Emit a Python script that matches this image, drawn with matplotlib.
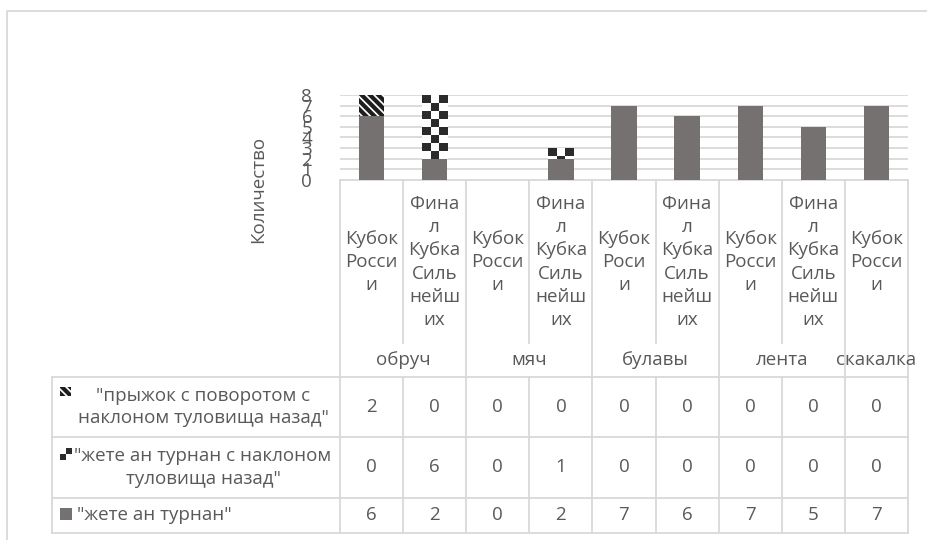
import numpy as np
import matplotlib
matplotlib.use("Agg")
from matplotlib import pyplot as plt
from matplotlib.colors import ListedColormap
from matplotlib.patches import Rectangle

plt.rcParams['font.family'] = ['Open Sans', 'DejaVu Sans']
plt.rcParams['hatch.linewidth'] = 3.0

# categories (group, event) as shown in the data table
groups = ["обруч", "мяч", "булавы", "лента", "скакалка"]
groupSizes = [2, 2, 2, 2, 1]
catLabels = ["Кубок\nРосси\nи", "Фина\nл\nКубка\nСиль\nнейш\nих",
             "Кубок\nРосси\nи", "Фина\nл\nКубка\nСиль\nнейш\nих",
             "Кубок\nРоси\nи", "Фина\nл\nКубка\nСиль\nнейш\nих",
             "Кубок\nРосси\nи", "Фина\nл\nКубка\nСиль\nнейш\nих",
             "Кубок\nРосси\nи"]

# series, top to bottom in the table
seriesNames = ["\"прыжок с поворотом с\nнаклоном туловища назад\"",
               "\"жете ан турнан с наклоном\nтуловища назад\"",
               "\"жете ан турнан\""]
jumpTurn = [2, 0, 0, 0, 0, 0, 0, 0, 0]
jeteBend = [0, 6, 0, 1, 0, 0, 0, 0, 0]
jete = [6, 2, 0, 2, 7, 6, 7, 5, 7]

TEXT = '#595959'
GRID = '#d9d9d9'
BAR = '#767171'
DARK = '#1e1e1e'
FS = 13.5

W, H = 928, 540
fig = plt.figure(figsize=(W / 100, H / 100), dpi=100)

# plot area in pixel coordinates
px0, px1 = 340, 908
py_top, py_bot = 95, 180
ax = fig.add_axes([px0 / W, 1 - py_bot / H, (px1 - px0) / W, (py_bot - py_top) / H])

x = np.arange(len(catLabels))
bw = 0.4
checker = ListedColormap(['white', '#2b2b2b'])
cell = 0.75  # checker cell height in value units

ax.bar(x, jete, bw, color=BAR, zorder=3)
b2 = ax.bar(x, jeteBend, bw, bottom=jete, color='white', zorder=3)
for rect, h in zip(b2, jeteBend):
    if h == 0:
        continue
    rows = int(np.ceil(h / cell - 1e-9))
    pat = (np.add.outer(np.arange(rows), np.arange(3)) + 1) % 2
    top = rect.get_y() + h
    im = ax.imshow(pat, cmap=checker, interpolation='nearest', aspect='auto', zorder=4,
                   extent=(rect.get_x(), rect.get_x() + rect.get_width(),
                           top - rows * cell, top))
    im.set_clip_path(rect)
bottom3 = np.array(jete) + np.array(jeteBend)
ax.bar(x, jumpTurn, bw, bottom=bottom3, color='white', edgecolor=DARK,
       linewidth=0, hatch='\\\\\\\\', zorder=3)

ax.set_xlim(-0.5, len(x) - 0.5)
ax.set_ylim(0, 8)
ax.set_yticks(range(0, 9))
ax.yaxis.grid(True, color=GRID, linewidth=1.3, zorder=0)
ax.set_xticks([])
ax.tick_params(axis='y', length=0, pad=20, labelsize=13.5, labelcolor=TEXT)
for s in ax.spines.values():
    s.set_visible(False)

# overlay in pixel coordinates for the table and frame
ov = fig.add_axes([0, 0, 1, 1], zorder=-1)
ov.set_xlim(0, W)
ov.set_ylim(H, 0)
ov.axis('off')

# outer chart frame
ov.plot([7, 7, W], [H, 11, 11], color=GRID, lw=1.3)

ov.text(258, 189, "Количество", rotation=90, ha='center', va='center',
        fontsize=FS, color=TEXT)

colW = (px1 - px0) / len(catLabels)
edges = [px0 + i * colW for i in range(len(catLabels) + 1)]
groupEdges = np.concatenate([[0], np.cumsum(groupSizes)])
rowY = [377, 437, 498, 533]
tabLeft = 52

# horizontal lines
ov.plot([px0, px1], [py_bot, py_bot], color=GRID, lw=1.3)
for yy in rowY:
    ov.plot([tabLeft, px1], [yy, yy], color=GRID, lw=1.3)
# vertical lines
for i, ex in enumerate(edges):
    if i in groupEdges:
        ov.plot([ex, ex], [py_bot, rowY[-1]], color=GRID, lw=1.3)
    else:
        ov.plot([ex, ex], [py_bot, 343], color=GRID, lw=1.3)
        ov.plot([ex, ex], [rowY[0], rowY[-1]], color=GRID, lw=1.3)
ov.plot([tabLeft, tabLeft], [rowY[0], rowY[-1]], color=GRID, lw=1.3)

# category labels
for i, lab in enumerate(catLabels):
    ov.text((edges[i] + edges[i + 1]) / 2, 262, lab, ha='center', va='center',
            fontsize=FS, color=TEXT, linespacing=1.38)
# group labels
for g, name in enumerate(groups):
    gx = (edges[groupEdges[g]] + edges[groupEdges[g + 1]]) / 2
    ov.text(gx, 360, name, ha='center', va='center', fontsize=FS, color=TEXT)

# data rows
tableData = [jumpTurn, jeteBend, jete]
for r, vals in enumerate(tableData):
    cy = (rowY[r] + rowY[r + 1]) / 2
    for i, v in enumerate(vals):
        ov.text((edges[i] + edges[i + 1]) / 2, cy, str(v), ha='center', va='center',
                fontsize=FS, color=TEXT)
    if r < 2:
        ov.text(203, cy, seriesNames[r], ha='center', va='center', fontsize=FS,
                color=TEXT, linespacing=1.3)
    else:
        ov.text(77, cy, seriesNames[r], ha='left', va='center', fontsize=FS, color=TEXT)

# legend keys
ov.add_patch(Rectangle((60, 387), 11, 9, facecolor='white', edgecolor=DARK,
                       linewidth=0, hatch='\\\\\\\\'))
ov.imshow(np.array([[0, 1], [1, 0]]), cmap=checker, interpolation='nearest',
          extent=(60, 72, 460, 448), aspect='auto')
ov.add_patch(Rectangle((60, 508), 12, 12, facecolor=BAR, linewidth=0))
ov.set_xlim(0, W)
ov.set_ylim(H, 0)

fig.savefig("out.png", dpi=100)
